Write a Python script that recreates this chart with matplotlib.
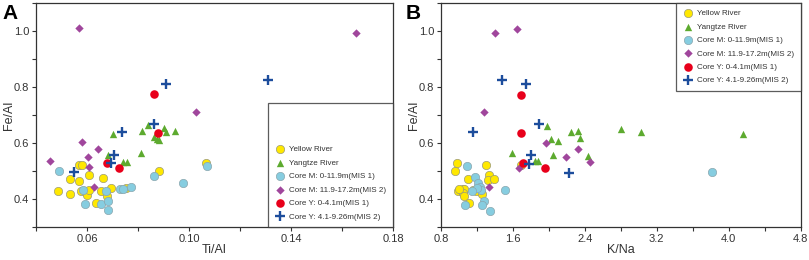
import matplotlib.pyplot as plt
from matplotlib.ticker import MultipleLocator

plt.rcParams['font.family'] = ['Liberation Sans', 'DejaVu Sans']

# ---- panel A: Ti/Al vs Fe/Al ----
yellow_a_x = [0.0488, 0.0532, 0.0535, 0.0570, 0.0579, 0.0570, 0.0608, 0.0578, 0.0596, 0.0599,
              0.0609, 0.0661, 0.0656, 0.0635, 0.0693, 0.0680, 0.0753, 0.0884, 0.1066]
yellow_a_y = [0.429, 0.472, 0.418, 0.522, 0.522, 0.465, 0.486, 0.427, 0.424, 0.416,
              0.432, 0.475, 0.429, 0.386, 0.439, 0.409, 0.439, 0.501, 0.530]
yangtze_a_x = [0.0701, 0.0683, 0.0742, 0.0755, 0.0811, 0.0814, 0.0838, 0.0864, 0.0875,
               0.0882, 0.0903, 0.0908, 0.0945]
yangtze_a_y = [0.634, 0.556, 0.534, 0.534, 0.566, 0.643, 0.664, 0.620, 0.614,
               0.610, 0.652, 0.638, 0.644]
corem1_a_x = [0.0489, 0.0593, 0.0585, 0.0656, 0.0682, 0.0681, 0.0674, 0.0731, 0.0742,
              0.0774, 0.0863, 0.0976, 0.1071]
corem1_a_y = [0.499, 0.383, 0.432, 0.381, 0.359, 0.393, 0.428, 0.436, 0.436,
              0.443, 0.482, 0.456, 0.518]
corem2_a_x = [0.0568, 0.1654, 0.1028, 0.0453, 0.0579, 0.0603, 0.0642, 0.0607, 0.0628]
corem2_a_y = [1.012, 0.994, 0.712, 0.536, 0.602, 0.551, 0.580, 0.513, 0.444]
corey1_a_x = [0.0863, 0.0878, 0.0679, 0.0725]
corey1_a_y = [0.774, 0.636, 0.528, 0.512]
corey2_a_x = [0.0911, 0.1308, 0.0862, 0.0739, 0.0704, 0.0693, 0.0550]
corey2_a_y = [0.810, 0.826, 0.668, 0.641, 0.558, 0.527, 0.496]

# ---- panel B: K/Na vs Fe/Al ----
yellow_b_x = [0.96, 0.975, 1.105, 1.30, 1.33, 1.32, 1.39, 0.985, 1.02, 1.05,
              1.06, 1.05, 1.06, 1.11, 1.16, 1.19, 1.26, 1.69, 1.00]
yellow_b_y = [0.501, 0.528, 0.473, 0.522, 0.485, 0.467, 0.470, 0.427, 0.433, 0.437,
              0.437, 0.420, 0.410, 0.386, 0.432, 0.430, 0.419, 0.522, 0.435]
yangtze_b_x = [1.590, 1.983, 2.020, 2.101, 2.049, 1.845, 1.882, 2.242, 2.327, 2.346,
               2.431, 2.798, 3.024, 4.155]
yangtze_b_y = [0.564, 0.661, 0.616, 0.609, 0.557, 0.535, 0.535, 0.638, 0.642, 0.617,
               0.552, 0.651, 0.639, 0.632]
corem1_b_x = [1.093, 1.182, 1.215, 1.238, 1.245, 1.275, 1.260, 1.071, 1.349, 1.508,
              3.810, 1.20, 1.14]
corem1_b_y = [0.517, 0.480, 0.457, 0.443, 0.433, 0.392, 0.380, 0.379, 0.357, 0.432,
              0.497, 0.440, 0.430]
corem2_b_x = [1.397, 1.649, 1.278, 1.971, 2.194, 2.327, 2.461, 1.671, 1.334]
corem2_b_y = [0.992, 1.009, 0.710, 0.601, 0.551, 0.578, 0.533, 0.510, 0.442]
corey1_b_x = [1.690, 1.690, 1.708, 1.953]
corey1_b_y = [0.773, 0.635, 0.527, 0.510]
corey2_b_x = [1.482, 1.749, 1.894, 1.156, 1.801, 1.782, 2.224]
corey2_b_y = [0.824, 0.810, 0.667, 0.640, 0.558, 0.526, 0.493]

labels = ["Yellow River", "Yangtze River", "Core M: 0-11.9m(MIS 1)",
          "Core M: 11.9-17.2m(MIS 2)", "Core Y: 0-4.1m(MIS 1)", "Core Y: 4.1-9.26m(MIS 2)"]


def draw(ax, groups):
    (yx, yy), (gx, gy), (m1x, m1y), (m2x, m2y), (r1x, r1y), (r2x, r2y) = groups
    ax.scatter(yx, yy, s=36, c='#FFE800', edgecolors='#9a9a7a', linewidths=0.5, label=labels[0], zorder=3)
    ax.scatter(gx, gy, s=28, c='#5DAA2F', marker='^', linewidths=0, label=labels[1], zorder=3)
    ax.scatter(m1x, m1y, s=36, c='#86CDE0', edgecolors='#8aa6ae', linewidths=0.5, label=labels[2], zorder=3)
    ax.scatter(m2x, m2y, s=18, c='#A0469C', marker='D', linewidths=0, label=labels[3], zorder=3)
    ax.scatter(r1x, r1y, s=38, c='#E8001B', linewidths=0, label=labels[4], zorder=3)
    ax.scatter(r2x, r2y, s=42, c='#1C4D9C', marker='+', linewidths=1.7, label=labels[5], zorder=3)
    ax.set_ylim(0.3, 1.1)
    ax.yaxis.set_major_locator(MultipleLocator(0.2))
    ax.yaxis.set_minor_locator(MultipleLocator(0.1))
    ax.tick_params(which='both', direction='out', length=3, width=0.8, colors='#333333',
                   labelsize=8, labelcolor='#333333', pad=2)
    for sp in ax.spines.values():
        sp.set_color('#333333')
        sp.set_linewidth(0.9)
    ax.set_ylabel("Fe/Al", fontsize=9, color='#333333', va='center')
    ax.yaxis.set_label_coords(-0.075, 0.5)


fig = plt.figure(figsize=(8.09, 2.6), dpi=100)
ax1 = fig.add_axes([0.0445, 0.127, 0.4413, 0.861])
ax2 = fig.add_axes([0.5451, 0.127, 0.4446, 0.861])

draw(ax1, [(yellow_a_x, yellow_a_y), (yangtze_a_x, yangtze_a_y), (corem1_a_x, corem1_a_y),
           (corem2_a_x, corem2_a_y), (corey1_a_x, corey1_a_y), (corey2_a_x, corey2_a_y)])
ax1.set_xlim(0.04, 0.18)
ax1.set_xticks([0.06, 0.10, 0.14, 0.18])
ax1.set_xticks([0.04, 0.08, 0.12, 0.16], minor=True)
ax1.set_xticklabels(["0.06", "0.10", "0.14", "0.18"])
ax1.set_xlabel("Ti/Al", fontsize=9, color='#333333', va='center')

draw(ax2, [(yellow_b_x, yellow_b_y), (yangtze_b_x, yangtze_b_y), (corem1_b_x, corem1_b_y),
           (corem2_b_x, corem2_b_y), (corey1_b_x, corey1_b_y), (corey2_b_x, corey2_b_y)])
ax2.set_xlim(0.8, 4.8)
ax2.xaxis.set_major_locator(MultipleLocator(0.8))
ax2.xaxis.set_minor_locator(MultipleLocator(0.4))
ax2.set_xlabel("K/Na", fontsize=9, color='#333333', va='center')

for ax in (ax1, ax2):
    ax.xaxis.set_label_coords(0.5, -0.105)

for ax, loc, title in [(ax1, 'lower right', "\n"), (ax2, 'upper right', None)]:
    leg = ax.legend(loc=loc, fontsize=5.8, frameon=True, fancybox=False, borderaxespad=0,
                    handletextpad=0.5, labelspacing=0.72, borderpad=0.8, handlelength=1.3,
                    scatterpoints=1, title=title, title_fontsize=10)
    leg.get_frame().set_edgecolor('#333333')
    leg.get_frame().set_linewidth(0.9)
    for t in leg.get_texts():
        t.set_color('#333333')

fig.text(0.003, 0.985, "A", fontsize=15, fontweight='bold', va='top', ha='left')
fig.text(0.502, 0.985, "B", fontsize=15, fontweight='bold', va='top', ha='left')

fig.savefig("out.png", dpi=100)
